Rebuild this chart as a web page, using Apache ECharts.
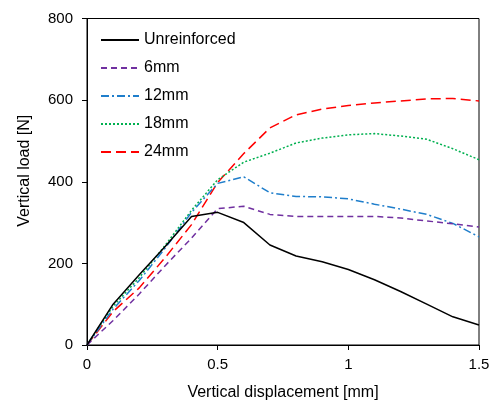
<!DOCTYPE html>
<html>
<head>
<meta charset="utf-8">
<script src="https://cdn.jsdelivr.net/npm/echarts@6/dist/echarts.min.js"></script>
<style>html,body{margin:0;padding:0;background:#fff;}#c{width:497px;height:401px;}</style>
</head>
<body>
<div id="c"></div>
<script>
var displacement = [0, 0.1, 0.2, 0.3, 0.4, 0.5, 0.6, 0.7, 0.8, 0.9, 1.0, 1.1, 1.2, 1.3, 1.4, 1.5];
var unreinforced = [0, 100, 172, 242, 315, 325, 300, 245, 218, 204, 185, 160, 131, 100, 69, 49];
var mm6 = [0, 60, 125, 195, 262, 334, 340, 320, 315, 315, 315, 315, 311, 304, 297, 289];
var mm12 = [0, 88, 158, 238, 325, 396, 412, 373, 364, 363, 358, 345, 333, 320, 298, 265];
var mm18 = [0, 95, 165, 245, 330, 405, 448, 470, 495, 507, 515, 518, 512, 504, 481, 454];
var mm24 = [0, 82, 140, 215, 295, 398, 469, 532, 564, 578, 587, 593, 598, 603, 604, 598];
var seriesNames = ['Unreinforced', '6mm', '12mm', '18mm', '24mm'];
var xTicks = [0, 0.5, 1, 1.5];
var yTicks = [0, 200, 400, 600, 800];

function pairs(ys) { return displacement.map(function (x, i) { return [x, ys[i]]; }); }
var FONT = 'Liberation Sans';
var styles = [
  {color: '#000000', type: 'solid'},
  {color: '#7030a0', type: [6, 4]},
  {color: '#1f7ecb', type: [8, 3, 2, 3]},
  {color: '#00b050', type: [2, 2]},
  {color: '#ff0000', type: [10, 5]}
];
var allData = [unreinforced, mm6, mm12, mm18, mm24];

var chart = echarts.init(document.getElementById('c'), null, {renderer: 'canvas'});
chart.setOption({
  animation: false,
  backgroundColor: '#fff',
  grid: {left: 87, right: 18, top: 18.5, bottom: 56, show: true, borderColor: '#000', borderWidth: 1,
         backgroundColor: 'transparent', containLabel: false, outerBoundsMode: 'none'},
  legend: {
    orient: 'vertical', left: 95, top: 27, itemWidth: 38, itemHeight: 14, itemGap: 12,
    itemStyle: {opacity: 0},
    textStyle: {fontFamily: FONT, fontSize: 16, color: '#000'},
    data: seriesNames
  },
  xAxis: {
    type: 'value', min: xTicks[0], max: xTicks[xTicks.length - 1], interval: 0.5,
    name: 'Vertical displacement [mm]', nameLocation: 'middle', nameGap: 40,
    nameTextStyle: {fontFamily: FONT, fontSize: 16, color: '#000'},
    axisLine: {lineStyle: {color: '#000', width: 1}},
    axisTick: {show: true, inside: false, length: 5, lineStyle: {color: '#000'}},
    axisLabel: {fontFamily: FONT, fontSize: 15, color: '#000', margin: 12},
    splitLine: {show: false}
  },
  yAxis: {
    type: 'value', min: yTicks[0], max: yTicks[yTicks.length - 1], interval: 200,
    name: 'Vertical load [N]', nameLocation: 'middle', nameGap: 54,
    nameTextStyle: {fontFamily: FONT, fontSize: 16, color: '#000', padding: [0, 0, 0, 22]},
    axisLine: {show: true, lineStyle: {color: '#000', width: 1}},
    axisTick: {show: true, inside: false, length: 5, lineStyle: {color: '#000'}},
    axisLabel: {fontFamily: FONT, fontSize: 15, color: '#000', margin: 14},
    splitLine: {show: false}
  },
  series: seriesNames.map(function (n, i) {
    return {
      name: n, type: 'line', symbol: 'none', data: pairs(allData[i]),
      color: styles[i].color,
      lineStyle: {color: styles[i].color, width: 1.5, type: styles[i].type},
      z: 10 - i
    };
  })
});
</script>
</body>
</html>
